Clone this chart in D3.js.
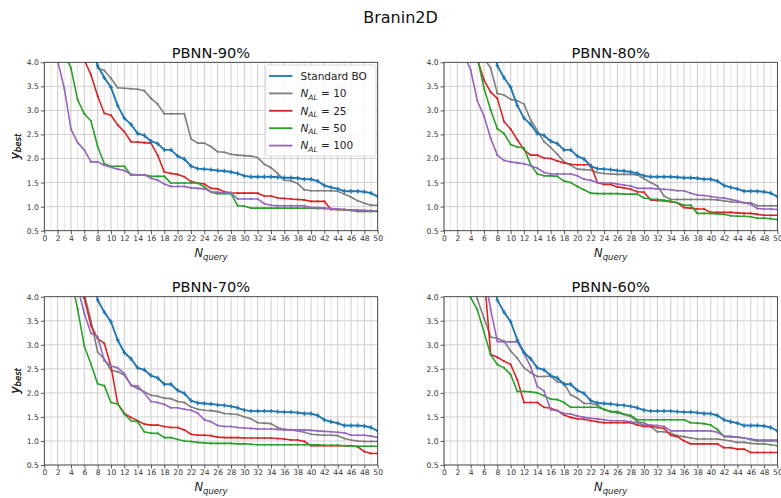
<!DOCTYPE html>
<html>
<head>
<meta charset="utf-8">
<script src="https://cdn.jsdelivr.net/npm/d3@7"></script>
<style>
  body { margin: 0; background: #fff; }
  text { font-family: "DejaVu Sans", sans-serif; }
</style>
</head>
<body>
<script>
// ---------------- DATA (x = 1..50, null = not shown / off chart) ----------------
const xValues = d3.range(1, 51);
const xTickValues = d3.range(0, 51, 2);
const yTickValues = [0.5, 1.0, 1.5, 2.0, 2.5, 3.0, 3.5, 4.0];
const panelTitles = ["PBNN-90%", "PBNN-80%", "PBNN-70%", "PBNN-60%"];
const seriesNames = ["Standard BO", "N_AL = 10", "N_AL = 25", "N_AL = 50", "N_AL = 100"];
const seriesColors = ["#1f77b4", "#7f7f7f", "#d62728", "#2ca02c", "#9467bd"];

const standardBO = [null,null,null,null,null,null,4.6,3.93,3.68,3.48,3.1,2.84,2.71,2.52,2.48,2.36,2.31,2.18,2.18,2.05,1.99,1.84,1.79,1.78,1.77,1.75,1.74,1.72,1.69,1.64,1.62,1.62,1.62,1.62,1.61,1.6,1.6,1.59,1.57,1.57,1.53,1.44,1.4,1.37,1.32,1.32,1.32,1.31,1.28,1.21];

// PBNN-90%
const al10_90  = [null,null,null,null,null,null,4.7,3.88,3.83,3.67,3.47,3.46,3.45,3.44,3.41,3.25,3.13,2.93,2.93,2.93,2.93,2.41,2.32,2.32,2.25,2.14,2.13,2.09,2.07,2.06,2.05,2.02,1.88,1.81,1.69,1.55,1.54,1.48,1.35,1.33,1.33,1.33,1.33,1.32,1.26,1.2,1.12,1.07,1.03,1.03];
const al25_90  = [null,null,null,null,5.0,4.05,3.74,3.3,2.94,2.9,2.7,2.56,2.35,2.34,2.33,2.32,2.07,1.72,1.69,1.67,1.62,1.52,1.49,1.47,1.38,1.37,1.31,1.29,1.28,1.28,1.28,1.28,1.22,1.22,1.18,1.17,1.16,1.15,1.14,1.11,1.11,1.11,0.94,0.94,0.93,0.93,0.92,0.92,0.91,0.91];
const al50_90  = [null,null,4.18,3.88,3.22,2.93,2.78,2.25,1.89,1.84,1.84,1.84,1.66,1.66,1.66,1.63,1.63,1.63,1.49,1.49,1.49,1.49,1.49,1.41,1.3,1.27,1.27,1.27,1.02,1.01,0.97,0.97,0.97,0.97,0.97,0.97,0.97,0.97,0.97,0.97,0.96,0.96,0.95,0.94,0.94,0.92,0.9,0.9,0.9,0.9];
const al100_90 = [6.0,4.03,3.46,2.61,2.33,2.18,1.93,1.93,1.86,1.82,1.78,1.75,1.67,1.66,1.66,1.59,1.55,1.47,1.42,1.42,1.42,1.39,1.38,1.37,1.31,1.3,1.29,1.28,1.16,1.16,1.16,1.16,1.06,1.03,1.02,1.02,1.02,1.02,1.02,0.98,0.98,0.97,0.96,0.95,0.94,0.93,0.93,0.92,0.92,0.9];

// PBNN-80%
const al10_80  = [null,null,null,null,null,4.08,3.88,3.35,3.32,3.23,3.2,3.13,2.8,2.58,2.35,2.23,2.09,1.93,1.86,1.78,1.77,1.76,1.71,1.69,1.68,1.67,1.67,1.67,1.66,1.58,1.5,1.43,1.22,1.15,1.15,1.15,1.15,1.15,1.15,1.15,1.14,1.12,1.1,1.09,1.08,1.08,1.02,1.02,1.02,1.02];
const al25_80  = [null,null,null,null,4.07,3.63,3.38,3.25,2.77,2.61,2.39,2.18,2.07,2.07,2.01,2.0,1.95,1.91,1.88,1.87,1.87,1.87,1.5,1.46,1.46,1.41,1.39,1.36,1.31,1.3,1.14,1.13,1.12,1.1,1.08,0.98,0.97,0.95,0.95,0.88,0.88,0.88,0.88,0.87,0.86,0.86,0.84,0.82,0.82,0.82];
const al50_80  = [null,null,null,null,4.1,3.46,3.01,2.62,2.52,2.29,2.24,2.22,1.87,1.68,1.64,1.64,1.63,1.53,1.5,1.42,1.35,1.28,1.27,1.27,1.27,1.27,1.26,1.26,1.26,1.18,1.16,1.15,1.13,1.11,1.08,1.03,1.03,0.86,0.86,0.86,0.85,0.84,0.81,0.8,0.8,0.79,0.76,0.76,0.75,0.73];
const al100_80 = [null,null,4.16,3.84,3.2,2.88,2.42,2.07,1.96,1.93,1.91,1.89,1.85,1.8,1.71,1.68,1.68,1.68,1.68,1.64,1.57,1.55,1.5,1.49,1.49,1.47,1.45,1.43,1.38,1.38,1.38,1.37,1.36,1.35,1.33,1.33,1.28,1.24,1.23,1.21,1.19,1.18,1.15,1.12,1.08,1.05,0.96,0.95,0.95,0.94];

// PBNN-70%
const al10_70  = [null,null,null,null,null,4.05,3.5,2.85,2.7,2.47,2.44,2.37,2.16,2.09,2.02,1.95,1.93,1.89,1.88,1.82,1.8,1.71,1.66,1.64,1.63,1.61,1.57,1.56,1.55,1.5,1.46,1.38,1.37,1.36,1.28,1.24,1.23,1.21,1.18,1.14,1.13,1.12,1.12,1.11,1.05,1.02,1.0,0.99,0.99,0.99];
const al25_70  = [null,null,null,null,4.17,3.97,3.4,3.13,3.03,2.55,1.78,1.57,1.49,1.42,1.35,1.33,1.33,1.3,1.28,1.28,1.23,1.14,1.12,1.12,1.11,1.08,1.07,1.07,1.07,1.06,1.06,1.06,1.06,1.06,1.05,1.04,1.02,1.02,0.99,0.9,0.9,0.9,0.9,0.9,0.9,0.9,0.88,0.78,0.74,0.74];
const al50_70  = [null,null,null,4.39,3.74,2.97,2.6,2.19,2.15,1.8,1.77,1.56,1.42,1.4,1.19,1.16,1.16,1.07,1.07,1.03,1.0,0.99,0.97,0.96,0.95,0.95,0.95,0.95,0.94,0.94,0.93,0.92,0.92,0.92,0.92,0.92,0.92,0.92,0.92,0.92,0.92,0.91,0.91,0.91,0.9,0.89,0.89,0.89,0.89,0.89];
const al100_70 = [null,null,null,null,4.2,3.65,3.24,3.17,2.67,2.56,2.52,2.4,2.16,2.14,2.0,1.82,1.8,1.76,1.69,1.69,1.66,1.64,1.58,1.44,1.4,1.32,1.3,1.3,1.28,1.27,1.26,1.25,1.25,1.25,1.24,1.23,1.23,1.23,1.23,1.22,1.21,1.2,1.19,1.18,1.17,1.12,1.12,1.12,1.1,1.07];

// PBNN-60%
const al10_60  = [null,null,null,4.5,3.95,3.55,3.16,3.13,3.08,2.87,2.72,2.52,2.42,2.34,2.34,2.35,2.23,2.2,1.96,1.89,1.78,1.78,1.75,1.65,1.61,1.58,1.55,1.51,1.4,1.38,1.3,1.19,1.19,1.16,1.11,1.09,1.06,1.04,1.04,1.04,1.04,1.02,1.0,0.97,0.97,0.95,0.94,0.94,0.92,0.9];
const al25_60  = [null,null,null,null,null,4.5,2.8,2.74,2.66,2.59,2.27,1.8,1.8,1.8,1.7,1.68,1.63,1.54,1.49,1.46,1.45,1.42,1.4,1.38,1.38,1.38,1.38,1.38,1.33,1.3,1.3,1.28,1.26,1.12,1.09,1.0,0.94,0.94,0.94,0.94,0.94,0.86,0.86,0.83,0.83,0.76,0.76,0.76,0.76,0.76];
const al50_60  = [null,null,4.3,3.98,3.73,3.26,2.79,2.59,2.52,2.38,2.03,2.03,2.02,2.0,1.94,1.87,1.86,1.8,1.7,1.7,1.7,1.7,1.7,1.66,1.61,1.61,1.56,1.53,1.44,1.44,1.44,1.44,1.44,1.44,1.44,1.44,1.38,1.37,1.36,1.33,1.24,1.09,1.09,1.08,1.06,1.03,1.0,1.0,1.0,1.0];
const al100_60 = [null,null,null,null,null,4.5,3.73,3.07,3.06,3.06,3.06,2.82,2.54,2.13,2.04,1.65,1.63,1.57,1.56,1.52,1.49,1.47,1.46,1.44,1.42,1.42,1.42,1.4,1.38,1.33,1.33,1.32,1.3,1.21,1.21,1.21,1.21,1.21,1.21,1.21,1.18,1.1,1.09,1.08,1.06,1.04,1.02,1.02,1.02,1.02];

const panelSeries = [
  [standardBO, al10_90, al25_90, al50_90, al100_90],
  [standardBO, al10_80, al25_80, al50_80, al100_80],
  [standardBO, al10_70, al25_70, al50_70, al100_70],
  [standardBO, al10_60, al25_60, al50_60, al100_60]
];

// ---------------- LAYOUT ----------------
const W = 781, H = 498;
const boxes = [
  {x0: 44.3, x1: 377.7, y0: 62.3, y1: 230.7},
  {x0: 444.0, x1: 777.4, y0: 62.3, y1: 230.7},
  {x0: 44.3, x1: 377.7, y0: 296.7, y1: 465.0},
  {x0: 444.0, x1: 777.4, y0: 296.7, y1: 465.0}
];

const svg = d3.select("body").append("svg")
  .attr("width", W).attr("height", H)
  .attr("viewBox", `0 0 ${W} ${H}`);

svg.append("text")
  .attr("x", 400.5).attr("y", 23)
  .attr("text-anchor", "middle")
  .attr("font-size", 16)
  .attr("fill", "#111")
  .text("Branin2D");

const defs = svg.append("defs");

boxes.forEach((b, pi) => {
  const xS = d3.scaleLinear().domain([0, 50]).range([b.x0, b.x1]);
  const yS = d3.scaleLinear().domain([0.5, 4.0]).range([b.y1, b.y0]);
  const g = svg.append("g");

  defs.append("clipPath").attr("id", "clip" + pi)
    .append("rect")
    .attr("x", b.x0).attr("y", b.y0)
    .attr("width", b.x1 - b.x0).attr("height", b.y1 - b.y0);

  // faint minor lines at odd queries (error-bar look)
  g.append("g").selectAll("line")
    .data(d3.range(1, 50, 2))
    .join("line")
    .attr("x1", d => xS(d)).attr("x2", d => xS(d))
    .attr("y1", b.y0).attr("y2", b.y1)
    .attr("stroke", "#ebe3e3").attr("stroke-width", 1);

  // grid
  g.append("g").selectAll("line")
    .data(xTickValues)
    .join("line")
    .attr("x1", d => xS(d)).attr("x2", d => xS(d))
    .attr("y1", b.y0).attr("y2", b.y1)
    .attr("stroke", "#c9c3c3").attr("stroke-width", 0.9);
  g.append("g").selectAll("line")
    .data(yTickValues)
    .join("line")
    .attr("x1", b.x0).attr("x2", b.x1)
    .attr("y1", d => yS(d)).attr("y2", d => yS(d))
    .attr("stroke", "#cccccc").attr("stroke-width", 0.9);

  // lines
  const line = d3.line()
    .defined(d => d[1] != null)
    .x(d => xS(d[0])).y(d => yS(d[1]));
  const plot = g.append("g").attr("clip-path", `url(#clip${pi})`);
  const order = [1, 2, 3, 4, 0];
  order.forEach(si => {
    const vals = panelSeries[pi][si];
    const pts = xValues.map((x, i) => [x, vals[i]]);
    plot.append("path")
      .datum(pts)
      .attr("fill", "none")
      .attr("stroke", seriesColors[si])
      .attr("stroke-width", si === 0 ? 1.9 : 1.6)
      .attr("stroke-linejoin", "round")
      .attr("d", line);
    const shown = pts.filter(d => d[1] != null && d[1] <= 4.05);
    if (si === 0) {
      plot.append("g").selectAll("path")
        .data(shown)
        .join("path")
        .attr("d", d => {
          const cx = xS(d[0]), cy = yS(d[1]);
          return `M${cx - 1.8},${cy}H${cx + 1.8}M${cx},${cy - 2.2}V${cy + 2.2}`;
        })
        .attr("stroke", seriesColors[si]).attr("stroke-width", 1.3);
    } else {
      plot.append("g").selectAll("circle")
        .data(shown)
        .join("circle")
        .attr("cx", d => xS(d[0])).attr("cy", d => yS(d[1]))
        .attr("r", 1.1)
        .attr("fill", seriesColors[si]);
    }
  });

  // axes
  const xAxis = d3.axisBottom(xS).tickValues(xTickValues).tickFormat(d3.format("d"))
    .tickSize(3.5).tickPadding(1.5);
  const yAxis = d3.axisLeft(yS).tickValues(yTickValues).tickFormat(d3.format(".1f"))
    .tickSize(3.5).tickPadding(2);
  const gx = g.append("g").attr("transform", `translate(0,${b.y1})`).call(xAxis);
  const gy = g.append("g").attr("transform", `translate(${b.x0},0)`).call(yAxis);
  [gx, gy].forEach(a => {
    a.select(".domain").remove();
    a.selectAll(".tick line").attr("stroke", "#333").attr("stroke-width", 0.8);
    a.selectAll(".tick text").attr("fill", "#333").attr("font-size", 7.6)
      .attr("font-family", "DejaVu Sans, sans-serif");
  });

  // frame
  g.append("rect")
    .attr("x", b.x0).attr("y", b.y0)
    .attr("width", b.x1 - b.x0).attr("height", b.y1 - b.y0)
    .attr("fill", "none").attr("stroke", "#333").attr("stroke-width", 0.8);

  // titles
  g.append("text")
    .attr("x", (b.x0 + b.x1) / 2).attr("y", b.y0 - 4.8)
    .attr("text-anchor", "middle").attr("font-size", 14.6).attr("fill", "#111")
    .text(panelTitles[pi]);

  // x label N_query
  const xl = g.append("text")
    .attr("x", (b.x0 + b.x1) / 2).attr("y", b.y1 + 26)
    .attr("text-anchor", "middle").attr("fill", "#222");
  xl.append("tspan").attr("font-size", 11.5).attr("font-style", "italic").text("N");
  xl.append("tspan").attr("font-size", 8.5).attr("font-style", "italic").attr("dy", 2.8).text("query");

  // y label y_best
  const ycx = 18.5, ycy = (b.y0 + b.y1) / 2;
  const yl = g.append("text")
    .attr("transform", `translate(${ycx},${ycy}) rotate(-90)`)
    .attr("text-anchor", "middle").attr("fill", "#222");
  yl.append("tspan").attr("font-size", 12).attr("font-style", "italic").text("y");
  yl.append("tspan").attr("font-size", 8.5).attr("font-style", "italic").attr("dy", 2.8).text("best");
});

// ---------------- LEGEND (first panel) ----------------
const lg = svg.append("g");
lg.append("rect")
  .attr("x", 265.5).attr("y", 65).attr("width", 110.5).attr("height", 91)
  .attr("rx", 2.5).attr("fill", "#fff").attr("fill-opacity", 0.85)
  .attr("stroke", "#d0d0d0").attr("stroke-width", 0.8);
const legendY = [76, 93.4, 110.8, 128.2, 145.6];
seriesNames.forEach((name, i) => {
  const y = legendY[i];
  lg.append("line").attr("x1", 269).attr("x2", 292.5).attr("y1", y).attr("y2", y)
    .attr("stroke", seriesColors[i]).attr("stroke-width", 1.8);
  const t = lg.append("text").attr("x", 300.5).attr("y", y + 3.8)
    .attr("font-size", 10.5).attr("fill", "#222");
  if (i === 0) {
    t.text(name);
  } else {
    const parts = name.split(" = ");
    t.append("tspan").attr("font-style", "italic").text("N");
    t.append("tspan").attr("font-style", "italic").attr("font-size", 7.5).attr("dy", 2.4).text("AL");
    t.append("tspan").attr("dy", -2.4).text(" = " + parts[1]);
  }
});
</script>
</body>
</html>
